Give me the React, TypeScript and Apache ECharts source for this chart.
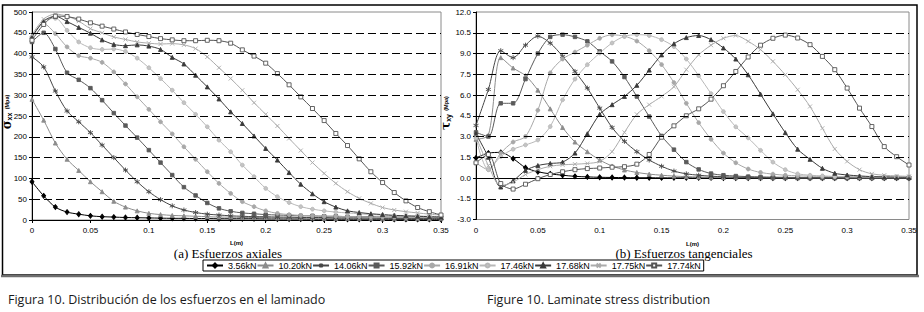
import React, { useEffect, useRef } from 'react';
import * as echarts from 'echarts';

const L = [0, 0.01, 0.02, 0.03, 0.04, 0.05, 0.06, 0.07, 0.08, 0.09, 0.1, 0.11, 0.12, 0.13, 0.14, 0.15, 0.16, 0.17, 0.18, 0.19, 0.2, 0.21, 0.22, 0.23, 0.24, 0.25, 0.26, 0.27, 0.28, 0.29, 0.3, 0.31, 0.32, 0.33, 0.34, 0.35];

const LOADS = ['3.56kN', '10.20kN', '14.06kN', '15.92kN', '16.91kN', '17.46kN', '17.68kN', '17.75kN', '17.74kN'];

// (a) axial stress sigma_xx (MPa)
const AX_356 = [92, 58, 31, 19, 14, 10, 8, 7, 6, 5.5, 5, 4.5, 4, 4, 3.5, 3.5, 3, 3, 3, 3, 2.5, 2.5, 2.5, 2.5, 2, 2, 2, 2, 2, 2, 2, 1.5, 1.5, 1.5, 1.5, 1.5];
const AX_1020 = [290, 240, 185, 146, 119, 92, 68, 45, 31, 22, 16, 13, 11, 10, 9, 8, 7, 7, 6, 6, 6, 5, 5, 5, 5, 4, 4, 4, 4, 4, 3, 3, 3, 3, 3, 3];
const AX_1406 = [392, 368, 310, 262, 236, 210, 180, 150, 120, 92, 68, 49, 34, 24, 18, 14, 12, 10, 9, 8, 8, 7, 7, 6, 6, 6, 5, 5, 5, 5, 4, 4, 4, 4, 4, 4];
const AX_1592 = [428, 450, 411, 354, 337, 317, 288, 257, 227, 198, 168, 138, 108, 79, 59, 41, 28, 21, 17, 15, 13, 12, 11, 10, 10, 9, 9, 8, 8, 8, 7, 7, 7, 7, 6, 6];
const AX_1691 = [440, 472, 448, 416, 395, 389, 379, 356, 327, 296, 266, 236, 207, 176, 146, 116, 88, 64, 44, 32, 22, 16, 13, 11, 10, 9, 9, 8, 8, 7, 7, 7, 6, 6, 6, 6];
const AX_1746 = [438, 478, 485, 456, 428, 414, 410, 411, 405, 389, 366, 340, 312, 282, 254, 224, 192, 164, 132, 104, 76, 56, 42, 32, 26, 22, 19, 17, 15, 13, 12, 11, 10, 9, 9, 8];
const AX_1768 = [440, 478, 490, 477, 463, 449, 433, 422, 419, 421, 418, 410, 391, 375, 348, 320, 291, 260, 232, 202, 172, 144, 114, 86, 63, 44, 31, 22, 18, 15, 13, 11, 10, 9, 8, 7];
const AX_1775 = [445, 483, 495, 490, 478, 460, 450, 440, 434, 428, 425, 423, 424, 421, 412, 392, 366, 340, 312, 282, 254, 226, 196, 167, 138, 112, 88, 68, 52, 40, 30, 24, 20, 17, 14, 12];
const AX_1774 = [432, 470, 490, 489, 483, 474, 466, 459, 452, 446, 441, 436, 433, 431, 431, 432, 431, 425, 409, 394, 377, 352, 325, 296, 268, 239, 208, 179, 147, 116, 90, 66, 46, 30, 20, 12];

// (b) shear stress tau_xy (MPa)
const SH_356 = [1.45, 1.8, 1.85, 1.4, 0.75, 0.45, 0.3, 0.2, 0.12, 0.08, 0.05, 0.04, 0.03, 0.02, 0.02, 0.01, 0.01, 0.01, 0.01, 0.01, 0, 0, 0, 0, 0, 0, 0, 0, 0, 0, 0, 0, 0, 0, 0, 0];
const SH_1020 = [2.8, 3.1, 8.7, 7.95, 7.4, 6.35, 5.0, 3.65, 2.6, 1.9, 1.3, 0.87, 0.58, 0.4, 0.28, 0.2, 0.14, 0.1, 0.07, 0.05, 0.04, 0.03, 0.03, 0.02, 0.02, 0.02, 0.01, 0.01, 0.01, 0.01, 0.01, 0.01, 0.01, 0.01, 0.01, 0.01];
const SH_1406 = [3.8, 6.4, 9.2, 8.7, 9.6, 10.25, 9.75, 8.8, 7.7, 6.5, 5.05, 3.65, 2.65, 1.9, 1.3, 0.85, 0.5, 0.3, 0.2, 0.13, 0.09, 0.06, 0.05, 0.04, 0.03, 0.03, 0.02, 0.02, 0.02, 0.02, 0.01, 0.01, 0.01, 0.01, 0.01, 0.01];
const SH_1592 = [3.3, 3.0, 5.4, 5.4, 7.15, 9.0, 10.2, 10.36, 10.2, 9.88, 9.15, 8.43, 7.3, 5.89, 4.44, 3.04, 2.05, 1.15, 0.62, 0.32, 0.2, 0.14, 0.1, 0.08, 0.06, 0.05, 0.04, 0.04, 0.03, 0.03, 0.03, 0.02, 0.02, 0.02, 0.02, 0.02];
const SH_1691 = [1.1, 0.6, 1.8, 2.6, 3.0, 4.9, 7.6, 8.6, 9.1, 9.6, 10.1, 10.35, 10.25, 9.9, 9.2, 8.2, 6.9, 5.4, 4.0, 2.8, 1.8, 1.1, 0.65, 0.4, 0.28, 0.2, 0.16, 0.13, 0.11, 0.1, 0.09, 0.08, 0.07, 0.07, 0.06, 0.06];
const SH_1746 = [2.9, 0.6, 1.55, 2.08, 2.39, 2.75, 3.72, 5.65, 7.15, 8.19, 9.03, 9.76, 10.24, 10.36, 10.3, 10.0, 9.5, 8.6, 7.4, 6.1, 4.8, 3.7, 2.9, 2.0, 1.15, 0.6, 0.3, 0.2, 0.15, 0.12, 0.1, 0.09, 0.08, 0.07, 0.07, 0.06];
const SH_1768 = [3.2, 1.5, -0.65, -0.2, 0.55, 0.9, 1.05, 1.15, 1.8, 3.2, 4.6, 5.3, 5.9, 6.7, 7.8, 8.9, 9.7, 10.15, 10.3, 10.0, 9.4, 8.6, 7.46, 6.06, 4.64, 3.28, 2.08, 1.35, 0.7, 0.34, 0.22, 0.15, 0.1, 0.08, 0.06, 0.05];
const SH_1775 = [3.0, 0.9, -0.55, -0.3, 0.25, 0.6, 0.85, 0.95, 1.0, 1.05, 1.2, 1.9, 3.3, 4.6, 5.3, 5.9, 6.6, 7.83, 8.9, 9.6, 10.1, 10.3, 9.88, 9.28, 8.43, 7.46, 6.38, 5.17, 3.6, 2.1, 1.2, 0.6, 0.3, 0.2, 0.15, 0.12];
const SH_1774 = [1.1, 1.7, -0.4, -0.8, -0.45, -0.05, 0.25, 0.45, 0.6, 0.68, 0.72, 0.78, 0.82, 1.0, 1.7, 2.95, 3.77, 4.5, 5.0, 5.7, 6.67, 7.7, 8.75, 9.6, 10.1, 10.33, 10.12, 9.64, 8.79, 7.83, 6.5, 5.05, 3.72, 2.27, 1.54, 0.94];

const AXIAL = [AX_356, AX_1020, AX_1406, AX_1592, AX_1691, AX_1746, AX_1768, AX_1775, AX_1774];
const SHEAR = [SH_356, SH_1020, SH_1406, SH_1592, SH_1691, SH_1746, SH_1768, SH_1775, SH_1774];

const GRID_AXIAL = [50, 100, 150, 200, 250, 300, 350, 400, 450];
const GRID_SHEAR = [-1.5, 1.5, 3, 4.5, 6, 7.5, 9, 10.5];

const ASTERISK = 'path://M5,0L5,10M0.7,2.5L9.3,7.5M0.7,7.5L9.3,2.5';
const CROSS = 'path://M0,0L10,10M0,10L10,0';

const STYLES = [
  { line: '#000000', symbol: 'diamond', size: [4, 5], fill: '#000000' },
  { line: '#8c8c8c', symbol: 'triangle', size: 4, fill: '#8c8c8c' },
  { line: '#474747', symbol: ASTERISK, size: 5, fill: '#474747' },
  { line: '#5a5a5a', symbol: 'rect', size: 3.5, fill: '#5a5a5a' },
  { line: '#a8a8a8', symbol: 'circle', size: 3.8, fill: '#a8a8a8' },
  { line: '#b8b8b8', symbol: 'circle', size: 3.8, fill: '#c4c4c4' },
  { line: '#3a3a3a', symbol: 'triangle', size: 4, fill: '#3a3a3a' },
  { line: '#ababab', symbol: CROSS, size: 4, fill: '#ababab' },
  { line: '#555555', symbol: 'rect', size: 4, fill: '#ffffff' },
];

const SANS = '"Liberation Sans", Arial, sans-serif';

function makeSeries(name: string, vals: number[], st: any, idx: number) {
  return {
    name,
    type: 'line',
    xAxisIndex: idx === 0 ? 0 : 1,
    yAxisIndex: idx,
    data: L.map((x, i) => [x, vals[i]]),
    smooth: 0.3,
    symbol: st.symbol,
    symbolSize: st.size,
    showSymbol: true,
    lineStyle: { color: st.line, width: 1 },
    itemStyle: { color: st.fill, borderColor: st.line, borderWidth: 0.9 },
    emphasis: { disabled: true },
    z: 3,
  };
}

function gridLines(vals: number[], xIdx: number, yIdx: number) {
  return {
    name: '_grid' + yIdx,
    type: 'line',
    xAxisIndex: xIdx,
    yAxisIndex: yIdx,
    data: [],
    z: 1,
    silent: true,
    markLine: {
      silent: true,
      symbol: 'none',
      label: { show: false },
      animation: false,
      lineStyle: { color: '#000', width: 1, type: [8, 4] },
      emphasis: { disabled: true },
      data: vals.map((v) => ({ yAxis: v })),
    },
  };
}

const tickLabel = { fontSize: 8, color: '#000', fontFamily: SANS };
const axisNameStyle = { fontSize: 6, fontWeight: 'bold', color: '#000', fontFamily: SANS };

export default function App() {
  const ref = useRef<HTMLDivElement>(null);
  useEffect(() => {
    if (!ref.current) return;
    const chart = echarts.init(ref.current, undefined, { renderer: 'svg' });
    const series: any[] = [gridLines(GRID_AXIAL, 0, 0), gridLines(GRID_SHEAR, 1, 1)];
    LOADS.forEach((n, i) => series.push(makeSeries(n, AXIAL[i], STYLES[i], 0)));
    LOADS.forEach((n, i) => series.push(makeSeries(n, SHEAR[i], STYLES[i], 1)));

    const xCommon = {
      type: 'value',
      min: 0,
      max: 0.35,
      interval: 0.05,
      splitLine: { show: false },
    };

    chart.setOption({
      animation: false,
      backgroundColor: '#ffffff',
      grid: [
        { left: 32, top: 12, width: 409, height: 208, show: true, borderColor: '#8a8a8a', borderWidth: 1, backgroundColor: 'transparent' },
        { left: 476, top: 12, width: 433, height: 207.5, show: true, borderColor: '#8a8a8a', borderWidth: 1, backgroundColor: 'transparent' },
      ],
      xAxis: [
        {
          ...xCommon, gridIndex: 0,
          axisLine: { show: true, onZero: false, lineStyle: { color: '#000', width: 1 } },
          axisTick: { show: true, length: 3, lineStyle: { color: '#000' } },
          axisLabel: { ...tickLabel, margin: 6 },
          name: 'L(m)', nameLocation: 'middle', nameGap: 20, nameTextStyle: axisNameStyle,
        },
        {
          ...xCommon, gridIndex: 1,
          axisLine: { show: false, onZero: false },
          axisTick: { show: false },
          axisLabel: { ...tickLabel, margin: 7 },
          name: 'L(m)', nameLocation: 'middle', nameGap: 21, nameTextStyle: axisNameStyle,
        },
        {
          ...xCommon, gridIndex: 1,
          axisLine: { show: true, onZero: true, lineStyle: { color: '#000', width: 1 } },
          axisTick: { show: true, length: 2, lineStyle: { color: '#000' } },
          axisLabel: { show: false },
        },
      ],
      yAxis: [
        {
          type: 'value', gridIndex: 0, min: 0, max: 500, interval: 50,
          axisLine: { show: true, lineStyle: { color: '#000', width: 1 } },
          axisTick: { show: true, length: 3, lineStyle: { color: '#000' } },
          axisLabel: { ...tickLabel, margin: 5 },
          splitLine: { show: false },
        },
        {
          type: 'value', gridIndex: 1, min: -3, max: 12, interval: 1.5,
          axisLine: { show: true, lineStyle: { color: '#000', width: 1 } },
          axisTick: { show: true, length: 3, lineStyle: { color: '#000' } },
          axisLabel: { ...tickLabel, margin: 5, formatter: (v: number) => v.toFixed(1) },
          splitLine: { show: false },
        },
      ],
      legend: {
        data: LOADS,
        left: 203,
        top: 260,
        orient: 'horizontal',
        itemWidth: 16,
        itemHeight: 5,
        itemGap: 0,
        padding: [1, 3, 1, 3],
        borderColor: '#000',
        borderWidth: 1,
        backgroundColor: '#ffffff',
        selectedMode: false,
        textStyle: { fontSize: 9, color: '#000', fontFamily: SANS },
      },
      graphic: {
        elements: [
          { type: 'rect', silent: true, shape: { x: 2.5, y: 5, width: 914.5, height: 270 }, style: { fill: 'none', stroke: '#000', lineWidth: 1.5 } },
          { type: 'line', silent: true, shape: { x1: 1, y1: 276, x2: 919, y2: 276 }, style: { stroke: '#6e6e6e', lineWidth: 2.5 } },
          {
            type: 'text', silent: true, x: 7, y: 112, rotation: Math.PI / 2,
            style: {
              text: '{g|σ}{s|xx} {u|(Mpa)}', align: 'center', verticalAlign: 'middle',
              rich: {
                g: { fontSize: 12, fontWeight: 'bold', fontFamily: '"DejaVu Serif", serif', fill: '#000' },
                s: { fontSize: 7, fontWeight: 'bold', fontFamily: SANS, fill: '#000', padding: [4, 0, 0, 0] },
                u: { fontSize: 5.5, fontWeight: 'bold', fontFamily: SANS, fill: '#000' },
              },
            },
          },
          {
            type: 'text', silent: true, x: 446, y: 113, rotation: Math.PI / 2,
            style: {
              text: '{g|τ}{s|xy} {u|(Mpa)}', align: 'center', verticalAlign: 'middle',
              rich: {
                g: { fontSize: 12, fontWeight: 'bold', fontFamily: '"DejaVu Serif", serif', fill: '#000' },
                s: { fontSize: 7, fontWeight: 'bold', fontFamily: SANS, fill: '#000', padding: [4, 0, 0, 0] },
                u: { fontSize: 5.5, fontWeight: 'bold', fontFamily: SANS, fill: '#000' },
              },
            },
          },
          { type: 'text', silent: true, x: 228, y: 253, style: { text: '(a) Esfuerzos axiales', align: 'center', verticalAlign: 'middle', fontSize: 13, fontFamily: '"Liberation Serif", serif', fill: '#000' } },
          { type: 'text', silent: true, x: 684, y: 253, style: { text: '(b) Esfuerzos tangenciales', align: 'center', verticalAlign: 'middle', fontSize: 13, fontFamily: '"Liberation Serif", serif', fill: '#000' } },
          { type: 'text', silent: true, x: 8, y: 299, style: { text: 'Figura 10. Distribución de los esfuerzos en el laminado', align: 'left', verticalAlign: 'middle', fontSize: 12.5, fontFamily: '"Open Sans", sans-serif', fill: '#1a1a1a' } },
          { type: 'text', silent: true, x: 487, y: 299, style: { text: 'Figure 10. Laminate stress distribution', align: 'left', verticalAlign: 'middle', fontSize: 12.5, fontFamily: '"Open Sans", sans-serif', fill: '#1a1a1a' } },
        ],
      },
      series,
    });
    return () => chart.dispose();
  }, []);
  return <div ref={ref} style={{ position: 'absolute', left: 0, top: 0, width: 924, height: 312, background: '#fff' }} />;
}
